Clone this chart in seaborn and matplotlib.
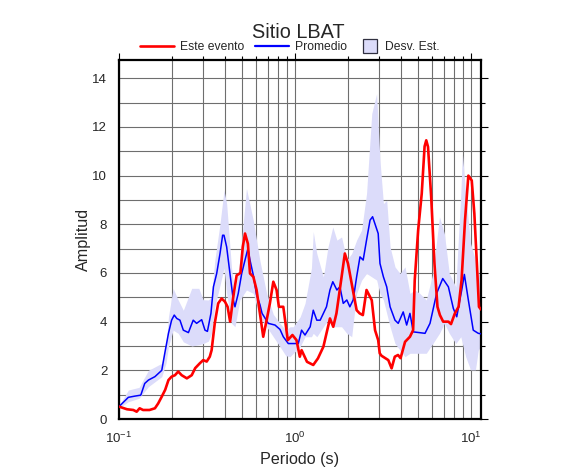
import numpy as np
import pandas as pd
import matplotlib
matplotlib.use("Agg")
import matplotlib.pyplot as plt
from matplotlib.lines import Line2D
from matplotlib.ticker import LogLocator, MultipleLocator
import seaborn as sns

# ---------------- data ----------------
red_period = [0.1, 0.111, 0.1206, 0.126, 0.131, 0.137, 0.149, 0.160, 0.167, 0.175,
              0.183, 0.191, 0.199, 0.208, 0.217, 0.227, 0.243, 0.259, 0.271, 0.288,
              0.301, 0.315, 0.328, 0.336, 0.35, 0.366, 0.383, 0.40, 0.414, 0.428,
              0.446, 0.466, 0.49, 0.505, 0.52, 0.54, 0.555, 0.58, 0.605, 0.632,
              0.66, 0.69, 0.72, 0.753, 0.786, 0.81, 0.858, 0.91, 0.967, 1.02,
              1.065, 1.09, 1.17, 1.27, 1.35, 1.45, 1.58, 1.65, 1.72, 1.84,
              1.92, 2.0, 2.15, 2.24, 2.33, 2.43, 2.55, 2.73, 2.85, 2.97,
              3.03, 3.1, 3.39, 3.54, 3.69, 3.85, 3.98, 4.22, 4.5, 4.69,
              4.79, 5.01, 5.25, 5.45, 5.57, 5.7, 5.94, 6.2, 6.45, 6.66,
              6.95, 7.44, 7.7, 8.1, 8.5, 8.84, 9.25, 9.66, 10.1, 10.45,
              10.8, 11.1, 11.4]
red_amp = [0.51, 0.40, 0.37, 0.30, 0.44, 0.37, 0.37, 0.44, 0.64, 0.92,
           1.2, 1.6, 1.74, 1.8, 1.95, 1.8, 1.67, 1.8, 2.09, 2.29,
           2.42, 2.36, 2.56, 2.83, 3.93, 4.75, 4.95, 4.82, 4.61, 4.0,
           5.02, 5.9, 6.0, 7.07, 7.62, 7.2, 5.98, 5.84, 5.3, 4.34,
           3.38, 4.06, 4.75, 5.64, 5.3, 4.61, 4.61, 3.24, 3.45, 3.24,
           2.56, 2.83, 2.35, 2.22, 2.49, 2.97, 4.13, 3.79, 4.34, 5.84,
           6.8, 6.39, 5.16, 4.47, 4.34, 4.27, 5.3, 4.88, 3.65, 3.24,
           2.7, 2.6, 2.42, 2.08, 2.56, 2.63, 2.5, 3.17, 3.38, 3.65,
           5.7, 7.76, 9.26, 11.2, 11.45, 11.18, 9.13, 6.39, 4.61, 4.27,
           4.0, 4.0, 3.9, 4.34, 4.61, 5.7, 8.17, 10.0, 9.8, 8.44,
           6.39, 4.61, 4.5]

blue_period = [0.1, 0.113, 0.123, 0.133, 0.140, 0.147, 0.160, 0.175, 0.182, 0.191,
               0.199, 0.206, 0.213, 0.222, 0.232, 0.248, 0.264, 0.276, 0.295, 0.308,
               0.318, 0.333, 0.344, 0.359, 0.375, 0.388, 0.395, 0.409, 0.427, 0.446,
               0.456, 0.476, 0.498, 0.520, 0.540, 0.555, 0.58, 0.605, 0.632, 0.65,
               0.705, 0.77, 0.822, 0.858, 0.916, 0.978, 1.044, 1.09, 1.14, 1.22,
               1.27, 1.33, 1.39, 1.45, 1.51, 1.58, 1.64, 1.73, 1.80, 1.88,
               1.97, 2.05, 2.14, 2.24, 2.34, 2.44, 2.55, 2.67, 2.76, 2.97,
               3.04, 3.18, 3.32, 3.47, 3.70, 3.86, 4.12, 4.31, 4.5, 4.70,
               5.48, 5.85, 6.38, 6.91, 7.44, 7.94, 8.3, 8.86, 9.17, 9.66,
               10.3, 11.0, 11.4]
blue_amp = [0.51, 0.89, 0.94, 0.98, 1.46, 1.6, 1.74, 2.0, 2.7, 3.52,
            4.06, 4.27, 4.13, 4.06, 3.65, 3.55, 4.06, 3.93, 4.08, 3.65,
            3.6, 4.34, 5.43, 5.98, 6.8, 7.55, 7.55, 7.07, 5.98, 4.89,
            4.61, 5.16, 5.98, 6.53, 7.0, 6.53, 5.9, 5.1, 4.7, 4.34,
            3.93, 3.86, 3.68, 3.38, 3.1, 3.1, 3.1, 3.65, 3.45, 3.79,
            4.47, 4.06, 4.06, 4.34, 4.61, 5.3, 5.64, 5.3, 5.43, 4.75,
            4.89, 4.61, 4.89, 5.84, 6.66, 6.53, 7.35, 8.17, 8.31, 7.62,
            6.39, 5.84, 5.43, 4.61, 4.06, 3.93, 4.4, 3.86, 4.34, 3.58,
            3.52, 3.93, 5.16, 5.77, 5.43, 4.54, 4.2, 5.3, 5.94, 4.89,
            3.65, 3.52, 3.5]

band_period = [0.1, 0.113, 0.13, 0.147, 0.175, 0.185, 0.191, 0.203, 0.217, 0.232,
               0.259, 0.284, 0.301, 0.322, 0.335, 0.35, 0.375, 0.395, 0.409, 0.436,
               0.456, 0.486, 0.53, 0.579, 0.632, 0.69, 0.753, 0.822, 0.887, 0.937,
               0.978, 1.07, 1.14, 1.24, 1.27, 1.33, 1.45, 1.54, 1.64, 1.73,
               1.84, 1.97, 2.10, 2.24, 2.39, 2.55, 2.73, 2.91, 3.04, 3.18,
               3.32, 3.47, 3.70, 3.95, 4.22, 4.5, 4.8, 5.12, 5.57, 6.07,
               6.62, 7.06, 7.53, 8.2, 8.75, 8.94, 9.33, 9.95, 10.6, 11.0, 11.4]
band_lower = [0.45, 0.71, 0.85, 1.33, 1.74, 2.3, 2.97, 3.65, 3.52, 3.17,
              3.0, 3.05, 3.1, 3.2, 3.5, 4.6, 5.5, 6.2, 5.16, 3.93,
              3.79, 4.89, 5.3, 5.16, 4.2, 3.79, 3.38, 2.97, 2.6, 2.56,
              2.7, 2.97, 3.38, 3.38, 3.52, 3.38, 3.79, 4.06, 3.79, 3.79,
              3.79, 3.52, 3.38, 5.16, 5.7, 5.98, 5.84, 5.71, 5.16, 4.89,
              4.34, 3.79, 3.10, 2.83, 2.56, 2.70, 2.70, 2.70, 2.70, 3.10,
              3.52, 3.93, 3.52, 3.10, 3.38, 3.10, 2.56, 2.02, 2.02, 2.83, 3.0]
band_upper = [0.55, 1.19, 1.3, 2.0, 2.29, 3.0, 4.2, 5.37, 4.89, 4.47,
              5.37, 5.37, 4.9, 4.89, 5.0, 6.5, 8.03, 9.4, 8.85, 6.2,
              5.16, 6.53, 9.47, 8.17, 6.5, 5.16, 4.3, 3.93, 3.65, 3.79,
              3.79, 4.2, 4.75, 6.2, 7.7, 6.8, 5.84, 7.07, 7.89, 7.35,
              7.48, 6.53, 6.8, 7.35, 7.76, 9.26, 12.55, 13.37, 10.63, 8.85,
              8.99, 7.07, 6.25, 5.98, 6.25, 5.16, 5.30, 5.16, 4.89, 5.98,
              8.31, 7.62, 5.98, 5.43, 9.26, 10.9, 9.26, 7.21, 6.53, 5.98, 5.9]

x_ticks = [0.1, 1, 10]
y_ticks = [0, 2, 4, 6, 8, 10, 12, 14]

title = "Sitio LBAT"
xlabel = "Periodo (s)"
ylabel = "Amplitud"
labels = ["Este evento", "Promedio", "Desv. Est."]

# ---------------- style ----------------
sns.set_style("white")
plt.rcParams['font.family'] = ['Liberation Sans', 'DejaVu Sans']
plt.rcParams['axes.unicode_minus'] = True

RED = "#ff0000"
BLUE = "#0000ff"
BAND = "#dcdcfa"

fig = plt.figure(figsize=(5.86, 4.75), dpi=100)
ax = fig.add_axes([119/586, 1-419/475, (481-119)/586, (419-60)/475])

ax.fill_between(band_period, band_lower, band_upper, color=BAND, lw=0, zorder=1)

red_df = pd.DataFrame({"period": red_period, "amp": red_amp})
blue_df = pd.DataFrame({"period": blue_period, "amp": blue_amp})
sns.lineplot(data=blue_df, x="period", y="amp", ax=ax, color=BLUE, lw=1.1,
             estimator=None, sort=False, zorder=3)
sns.lineplot(data=red_df, x="period", y="amp", ax=ax, color=RED, lw=1.9,
             estimator=None, sort=False, zorder=4)

ax.set_xscale("log")
ax.set_xlim(0.1, 11.4)
ax.set_ylim(0, 14.75)
ax.set_xticks(x_ticks)
ax.xaxis.set_minor_locator(LogLocator(base=10, subs=np.arange(2, 10)))
ax.set_yticks(y_ticks)
ax.yaxis.set_minor_locator(MultipleLocator(1))

ax.grid(True, which="both", color="#6e6e6e", lw=0.8, zorder=0)
ax.set_axisbelow(True)

ax.tick_params(which="both", direction="out", top=True, right=True,
               color="black", width=0.8, labelsize=9.5)
ax.tick_params(which="major", length=5)
ax.tick_params(which="minor", length=3)
for s in ax.spines.values():
    s.set_color("black")
    s.set_linewidth(1.6)
    s.set_visible(True)

ax.set_xlabel(xlabel, fontsize=11.6, labelpad=4)
ax.set_ylabel(ylabel, fontsize=11.6, labelpad=1)
fig.text(0.509, 0.931, title, ha="center", va="center", fontsize=14.3)

line_handles = [Line2D([], [], color=RED, lw=1.9),
                Line2D([], [], color=BLUE, lw=1.6)]
patch_handle = [Line2D([], [], ls="none", marker="s", markersize=10,
                       markerfacecolor=BAND, markeredgecolor="#303040",
                       markeredgewidth=0.9)]
fig.legend(line_handles, labels[:2], loc="center", bbox_to_anchor=(243.5/586, 0.901),
           ncol=2, frameon=False, fontsize=8.7, handlelength=2.8, columnspacing=0.85,
           handletextpad=0.5, borderaxespad=0, borderpad=0)
fig.legend(patch_handle, labels[2:], loc="center", bbox_to_anchor=(401/586, 0.901),
           ncol=1, frameon=False, fontsize=8.7, handlelength=1.2,
           handletextpad=0.6, borderaxespad=0, borderpad=0)

fig.savefig("out.png", dpi=100)
